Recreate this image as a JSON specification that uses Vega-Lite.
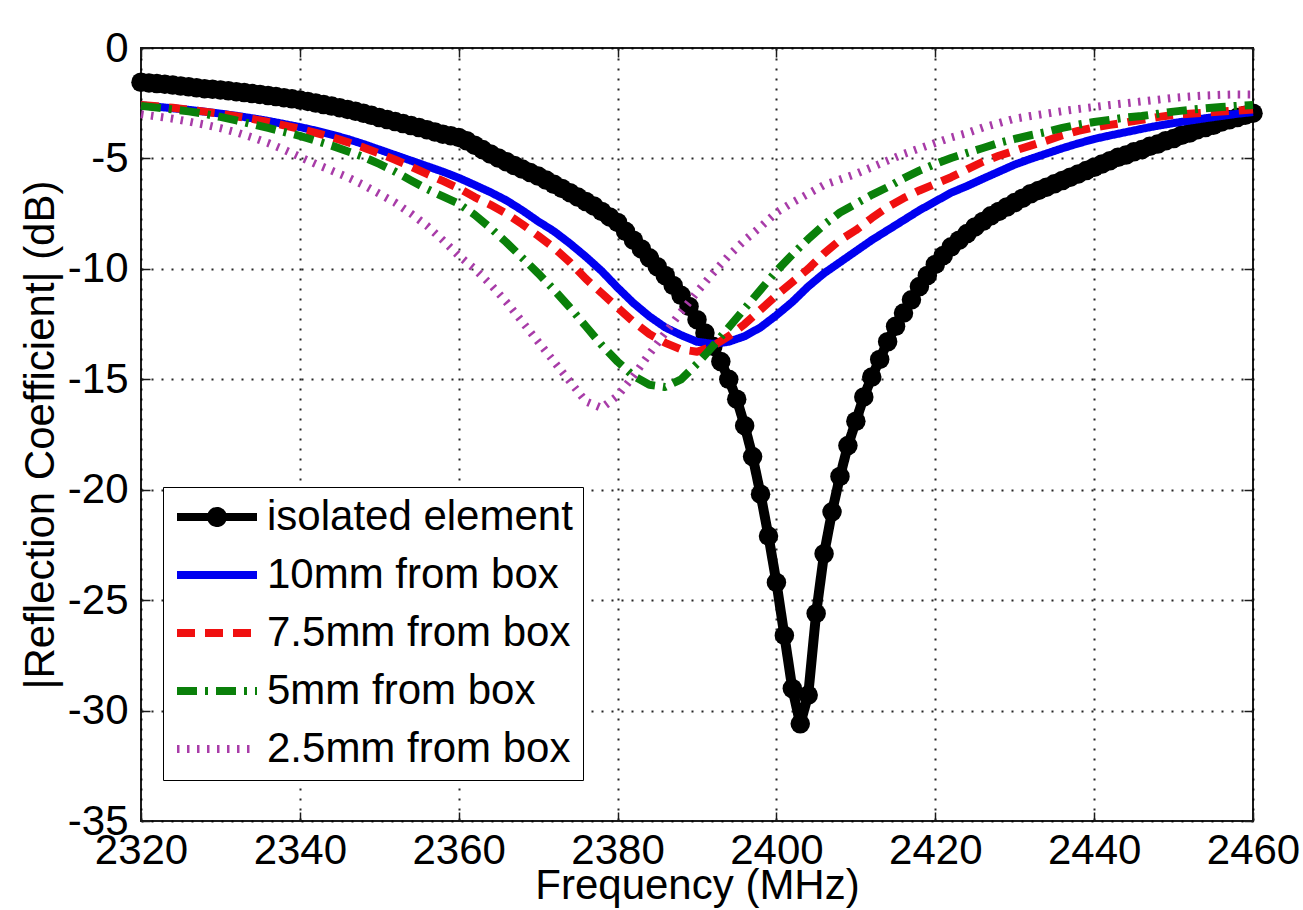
{
  "$schema": "https://vega.github.io/schema/vega-lite/v6.json",
  "width": 1112,
  "height": 773,
  "autosize": {"type": "none"},
  "padding": {"left": 141, "top": 48, "right": 50, "bottom": 89},
  "background": "white",
  "config": {
    "view": {"stroke": "#1a1a1a", "strokeWidth": 2},
    "font": "Liberation Sans",
    "axis": {
      "labelFont": "Liberation Sans", "labelFontSize": 42, "labelColor": "black",
      "titleFont": "Liberation Sans", "titleFontSize": 42, "titleFontWeight": "normal", "titleColor": "black",
      "domain": false, "tickColor": "#1a1a1a", "tickWidth": 1.5, "tickSize": -9,
      "gridColor": "black", "gridDash": [2, 8], "gridWidth": 2, "gridOpacity": 0.85,
      "labelFlush": false, "labelOverlap": false
    }
  },
  "data": {"values": [
{"f":2320,"iso":-1.55,"b":-2.6,"r":-2.58,"g":-2.62,"p":-3.0},
{"f":2321,"iso":-1.58},
{"f":2322,"iso":-1.61,"b":-2.66,"r":-2.64,"g":-2.7,"p":-3.1},
{"f":2323,"iso":-1.64},
{"f":2324,"iso":-1.68,"b":-2.73,"r":-2.71,"g":-2.78,"p":-3.2},
{"f":2325,"iso":-1.72},
{"f":2326,"iso":-1.76,"b":-2.8,"r":-2.79,"g":-2.87,"p":-3.33},
{"f":2327,"iso":-1.8},
{"f":2328,"iso":-1.84,"b":-2.88,"r":-2.88,"g":-2.98,"p":-3.47},
{"f":2329,"iso":-1.87},
{"f":2330,"iso":-1.9,"b":-2.97,"r":-2.98,"g":-3.12,"p":-3.63},
{"f":2331,"iso":-1.94},
{"f":2332,"iso":-1.98,"b":-3.07,"r":-3.09,"g":-3.28,"p":-3.82},
{"f":2333,"iso":-2.02},
{"f":2334,"iso":-2.06,"b":-3.18,"r":-3.21,"g":-3.45,"p":-4.05},
{"f":2335,"iso":-2.1},
{"f":2336,"iso":-2.15,"b":-3.3,"r":-3.35,"g":-3.62,"p":-4.3},
{"f":2337,"iso":-2.2},
{"f":2338,"iso":-2.25,"b":-3.44,"r":-3.5,"g":-3.8,"p":-4.6},
{"f":2339,"iso":-2.3},
{"f":2340,"iso":-2.35,"b":-3.58,"r":-3.66,"g":-3.98,"p":-4.93},
{"f":2341,"iso":-2.42},
{"f":2342,"iso":-2.49,"b":-3.74,"r":-3.84,"g":-4.2,"p":-5.25},
{"f":2343,"iso":-2.56},
{"f":2344,"iso":-2.63,"b":-3.92,"r":-4.04,"g":-4.42,"p":-5.55},
{"f":2345,"iso":-2.7},
{"f":2346,"iso":-2.78,"b":-4.12,"r":-4.26,"g":-4.68,"p":-5.85},
{"f":2347,"iso":-2.86},
{"f":2348,"iso":-2.95,"b":-4.35,"r":-4.5,"g":-4.93,"p":-6.2},
{"f":2349,"iso":-3.05},
{"f":2350,"iso":-3.15,"b":-4.6,"r":-4.77,"g":-5.25,"p":-6.6},
{"f":2351,"iso":-3.24},
{"f":2352,"iso":-3.33,"b":-4.85,"r":-5.06,"g":-5.6,"p":-7.0},
{"f":2353,"iso":-3.42},
{"f":2354,"iso":-3.51,"b":-5.1,"r":-5.37,"g":-6.0,"p":-7.5},
{"f":2355,"iso":-3.6},
{"f":2356,"iso":-3.7,"b":-5.35,"r":-5.7,"g":-6.38,"p":-8.05},
{"f":2357,"iso":-3.8},
{"f":2358,"iso":-3.9,"b":-5.6,"r":-6.02,"g":-6.72,"p":-8.7},
{"f":2359,"iso":-3.97},
{"f":2360,"iso":-4.05,"b":-5.88,"r":-6.35,"g":-7.05,"p":-9.4},
{"f":2361,"iso":-4.2},
{"f":2362,"iso":-4.4,"b":-6.2,"r":-6.75,"g":-7.55,"p":-10.0},
{"f":2363,"iso":-4.6},
{"f":2364,"iso":-4.8,"b":-6.53,"r":-7.1,"g":-8.15,"p":-10.7},
{"f":2365,"iso":-4.98},
{"f":2366,"iso":-5.15,"b":-6.9,"r":-7.5,"g":-8.8,"p":-11.5},
{"f":2367,"iso":-5.32},
{"f":2368,"iso":-5.48,"b":-7.35,"r":-7.98,"g":-9.5,"p":-12.4},
{"f":2369,"iso":-5.64},
{"f":2370,"iso":-5.8,"b":-7.85,"r":-8.5,"g":-10.2,"p":-13.3},
{"f":2371,"iso":-5.98},
{"f":2372,"iso":-6.17,"b":-8.3,"r":-9.05,"g":-10.95,"p":-14.2},
{"f":2373,"iso":-6.36},
{"f":2374,"iso":-6.55,"b":-8.85,"r":-9.7,"g":-11.75,"p":-15.1},
{"f":2375,"iso":-6.75},
{"f":2376,"iso":-6.95,"b":-9.45,"r":-10.45,"g":-12.6,"p":-16.0},
{"f":2377,"iso":-7.15},
{"f":2378,"iso":-7.4,"b":-10.1,"r":-11.1,"g":-13.45,"p":-16.3},
{"f":2379,"iso":-7.65},
{"f":2380,"iso":-7.9,"b":-10.85,"r":-11.75,"g":-14.2,"p":-15.75},
{"f":2381,"iso":-8.3},
{"f":2382,"iso":-8.7,"b":-11.55,"r":-12.4,"g":-14.85,"p":-14.85},
{"f":2383,"iso":-9.1},
{"f":2384,"iso":-9.5,"b":-12.15,"r":-12.95,"g":-15.25,"p":-13.85},
{"f":2385,"iso":-9.9},
{"f":2386,"iso":-10.3,"b":-12.65,"r":-13.35,"g":-15.35,"p":-12.9},
{"f":2387,"iso":-10.75},
{"f":2388,"iso":-11.2,"b":-13.0,"r":-13.65,"g":-15.0,"p":-11.95},
{"f":2389,"iso":-11.7},
{"f":2390,"iso":-12.3,"b":-13.3,"r":-13.75,"g":-14.3,"p":-11.05},
{"f":2391,"iso":-12.9},
{"f":2392,"iso":-13.5,"b":-13.4,"r":-13.5,"g":-13.5,"p":-10.2},
{"f":2393,"iso":-14.2},
{"f":2394,"iso":-15.0,"b":-13.3,"r":-13.05,"g":-12.65,"p":-9.4},
{"f":2395,"iso":-15.9},
{"f":2396,"iso":-17.1,"b":-13.05,"r":-12.5,"g":-11.8,"p":-8.7},
{"f":2397,"iso":-18.5},
{"f":2398,"iso":-20.2,"b":-12.65,"r":-11.85,"g":-10.95,"p":-8.1},
{"f":2399,"iso":-22.1},
{"f":2400,"iso":-24.2,"b":-12.1,"r":-11.2,"g":-10.1,"p":-7.45},
{"f":2401,"iso":-26.6},
{"f":2402,"iso":-29.0,"b":-11.5,"r":-10.6,"g":-9.35,"p":-7.0},
{"f":2403,"iso":-30.6},
{"f":2404,"iso":-29.3,"b":-10.8,"r":-10.0,"g":-8.65,"p":-6.6},
{"f":2405,"iso":-25.6},
{"f":2406,"iso":-22.9,"b":-10.2,"r":-9.3,"g":-8.0,"p":-6.2},
{"f":2407,"iso":-21.0},
{"f":2408,"iso":-19.4,"b":-9.7,"r":-8.7,"g":-7.45,"p":-5.95},
{"f":2409,"iso":-18.0},
{"f":2410,"iso":-16.9,"b":-9.2,"r":-8.25,"g":-7.05,"p":-5.7},
{"f":2411,"iso":-15.8},
{"f":2412,"iso":-14.9,"b":-8.7,"r":-7.7,"g":-6.65,"p":-5.4},
{"f":2413,"iso":-14.1},
{"f":2414,"iso":-13.3,"b":-8.25,"r":-7.2,"g":-6.3,"p":-5.1},
{"f":2415,"iso":-12.6},
{"f":2416,"iso":-12.0,"b":-7.8,"r":-6.8,"g":-5.9,"p":-4.8},
{"f":2417,"iso":-11.4},
{"f":2418,"iso":-10.8,"b":-7.35,"r":-6.45,"g":-5.55,"p":-4.55},
{"f":2419,"iso":-10.3},
{"f":2420,"iso":-9.8,"b":-6.95,"r":-6.15,"g":-5.25,"p":-4.3},
{"f":2421,"iso":-9.4},
{"f":2422,"iso":-9.0,"b":-6.55,"r":-5.85,"g":-4.98,"p":-4.05},
{"f":2423,"iso":-8.7},
{"f":2424,"iso":-8.4,"b":-6.25,"r":-5.5,"g":-4.75,"p":-3.85},
{"f":2425,"iso":-8.1},
{"f":2426,"iso":-7.85,"b":-5.92,"r":-5.15,"g":-4.53,"p":-3.6},
{"f":2427,"iso":-7.6},
{"f":2428,"iso":-7.4,"b":-5.6,"r":-4.88,"g":-4.3,"p":-3.4},
{"f":2429,"iso":-7.2},
{"f":2430,"iso":-7.0,"b":-5.28,"r":-4.65,"g":-4.12,"p":-3.2},
{"f":2431,"iso":-6.8},
{"f":2432,"iso":-6.6,"b":-5.02,"r":-4.42,"g":-3.95,"p":-3.08},
{"f":2433,"iso":-6.45},
{"f":2434,"iso":-6.3,"b":-4.78,"r":-4.2,"g":-3.8,"p":-2.97},
{"f":2435,"iso":-6.15},
{"f":2436,"iso":-6.0,"b":-4.54,"r":-3.95,"g":-3.62,"p":-2.86},
{"f":2437,"iso":-5.85},
{"f":2438,"iso":-5.7,"b":-4.32,"r":-3.75,"g":-3.47,"p":-2.76},
{"f":2439,"iso":-5.55},
{"f":2440,"iso":-5.4,"b":-4.12,"r":-3.6,"g":-3.35,"p":-2.67},
{"f":2441,"iso":-5.25},
{"f":2442,"iso":-5.1,"b":-3.96,"r":-3.48,"g":-3.25,"p":-2.58},
{"f":2443,"iso":-4.95},
{"f":2444,"iso":-4.85,"b":-3.81,"r":-3.37,"g":-3.15,"p":-2.5},
{"f":2445,"iso":-4.7},
{"f":2446,"iso":-4.6,"b":-3.66,"r":-3.25,"g":-3.08,"p":-2.42},
{"f":2447,"iso":-4.45},
{"f":2448,"iso":-4.35,"b":-3.52,"r":-3.13,"g":-2.98,"p":-2.34},
{"f":2449,"iso":-4.2},
{"f":2450,"iso":-4.1,"b":-3.4,"r":-3.03,"g":-2.88,"p":-2.26},
{"f":2451,"iso":-3.95},
{"f":2452,"iso":-3.85,"b":-3.29,"r":-2.98,"g":-2.8,"p":-2.2},
{"f":2453,"iso":-3.7},
{"f":2454,"iso":-3.6,"b":-3.18,"r":-2.93,"g":-2.73,"p":-2.15},
{"f":2455,"iso":-3.5},
{"f":2456,"iso":-3.35,"b":-3.08,"r":-2.88,"g":-2.67,"p":-2.12},
{"f":2457,"iso":-3.25},
{"f":2458,"iso":-3.15,"b":-2.98,"r":-2.83,"g":-2.62,"p":-2.1},
{"f":2459,"iso":-3.05},
{"f":2460,"iso":-2.95,"b":-2.9,"r":-2.78,"g":-2.58,"p":-2.1}
  ]},
  "layer": [
    {
      "transform": [
        {"fold": ["iso"], "as": ["series", "value"]},
        {"filter": "isValid(datum.value)"}
      ],
      "mark": {"type": "line", "strokeWidth": 10, "strokeJoin": "round"},
      "encoding": {
        "x": {"field": "f", "type": "quantitative",
          "scale": {"domain": [2320, 2460], "nice": false, "zero": false},
          "axis": {"orient": "bottom", "values": [2320, 2340, 2360, 2380, 2400, 2420, 2440, 2460], "grid": true,
            "title": "Frequency (MHz)", "labelPadding": 18, "titleY": 77, "titleBaseline": "alphabetic",
            "labelExpr": "'' + datum.value"}},
        "y": {"field": "value", "type": "quantitative",
          "scale": {"domain": [-35, 0], "nice": false, "zero": false},
          "axis": {"orient": "left", "values": [-35, -30, -25, -20, -15, -10, -5, 0], "grid": true,
            "title": "|Reflection Coefficient| (dB)", "labelPadding": 22, "titleX": -88, "titleBaseline": "alphabetic",
            "labelExpr": "'' + datum.value"}},
        "color": {"field": "series", "type": "nominal",
          "scale": {"domain": ["iso", "b", "r", "g", "p"], "range": ["#000000", "#0000f0", "#f01010", "#0a800a", "#a83ca8"]},
          "legend": {"title": null, "orient": "none", "legendX": 22, "legendY": 439, "direction": "vertical",
            "symbolType": "stroke", "symbolSize": 6400, "symbolStrokeWidth": 8, "clipHeight": 40, "rowPadding": 16,
            "labelOffset": 6, "padding": 10, "strokeColor": "black", "fillColor": "white",
            "labelFontSize": 42, "labelFont": "Liberation Sans", "labelColor": "black", "labelLimit": 1000,
            "labelExpr": "datum.label == 'iso' ? 'isolated element' : datum.label == 'b' ? '10mm from box' : datum.label == 'r' ? '7.5mm from box' : datum.label == 'g' ? '5mm from box' : '2.5mm from box'",
            "encode": {"symbols": {"update": {
              "shape": {"signal": "datum.value == 'iso' ? 'M-1,0H1M0.15,0A0.15,0.15,0,1,1,-0.15,0A0.15,0.15,0,1,1,0.15,0Z' : 'stroke'"},
              "fill": {"signal": "datum.value == 'iso' ? '#000000' : 'transparent'"}}}}}},
        "strokeDash": {"field": "series", "type": "nominal",
          "scale": {"domain": ["iso", "b", "r", "g", "p"], "range": [[1, 0], [1, 0], [18, 10], [20, 8, 3, 8], [2.5, 7.5]]},
          "legend": {"title": null, "orient": "none", "legendX": 22, "legendY": 439, "direction": "vertical",
            "symbolType": "stroke", "symbolSize": 6400, "symbolStrokeWidth": 8, "clipHeight": 40, "rowPadding": 16,
            "labelOffset": 6, "padding": 10, "strokeColor": "black", "fillColor": "white",
            "labelFontSize": 42, "labelFont": "Liberation Sans", "labelColor": "black", "labelLimit": 1000,
            "labelExpr": "datum.label == 'iso' ? 'isolated element' : datum.label == 'b' ? '10mm from box' : datum.label == 'r' ? '7.5mm from box' : datum.label == 'g' ? '5mm from box' : '2.5mm from box'",
            "encode": {"symbols": {"update": {
              "shape": {"signal": "datum.value == 'iso' ? 'M-1,0H1M0.15,0A0.15,0.15,0,1,1,-0.15,0A0.15,0.15,0,1,1,0.15,0Z' : 'stroke'"},
              "fill": {"signal": "datum.value == 'iso' ? '#000000' : 'transparent'"}}}}}}
      }
    },
    {
      "mark": {"type": "point", "filled": true, "size": 380, "color": "#000000", "opacity": 1},
      "encoding": {
        "x": {"field": "f", "type": "quantitative",
          "scale": {"domain": [2320, 2460], "nice": false, "zero": false},
          "axis": {"orient": "top", "labels": false, "grid": false, "title": null, "values": [2320, 2340, 2360, 2380, 2400, 2420, 2440, 2460]}},
        "y": {"field": "iso", "type": "quantitative",
          "scale": {"domain": [-35, 0], "nice": false, "zero": false},
          "axis": {"orient": "right", "labels": false, "grid": false, "title": null, "values": [-35, -30, -25, -20, -15, -10, -5, 0]}}
      }
    },
    {
      "transform": [
        {"fold": ["b", "r", "g", "p"], "as": ["series", "value"]},
        {"filter": "isValid(datum.value)"}
      ],
      "mark": {"type": "line", "strokeWidth": 8, "strokeJoin": "round"},
      "encoding": {
        "x": {"field": "f", "type": "quantitative", "axis": null},
        "y": {"field": "value", "type": "quantitative", "axis": null},
        "color": {"field": "series", "type": "nominal"},
        "strokeDash": {"field": "series", "type": "nominal"}
      }
    }
  ],
  "resolve": {"axis": {"x": "independent", "y": "independent"}}
}
